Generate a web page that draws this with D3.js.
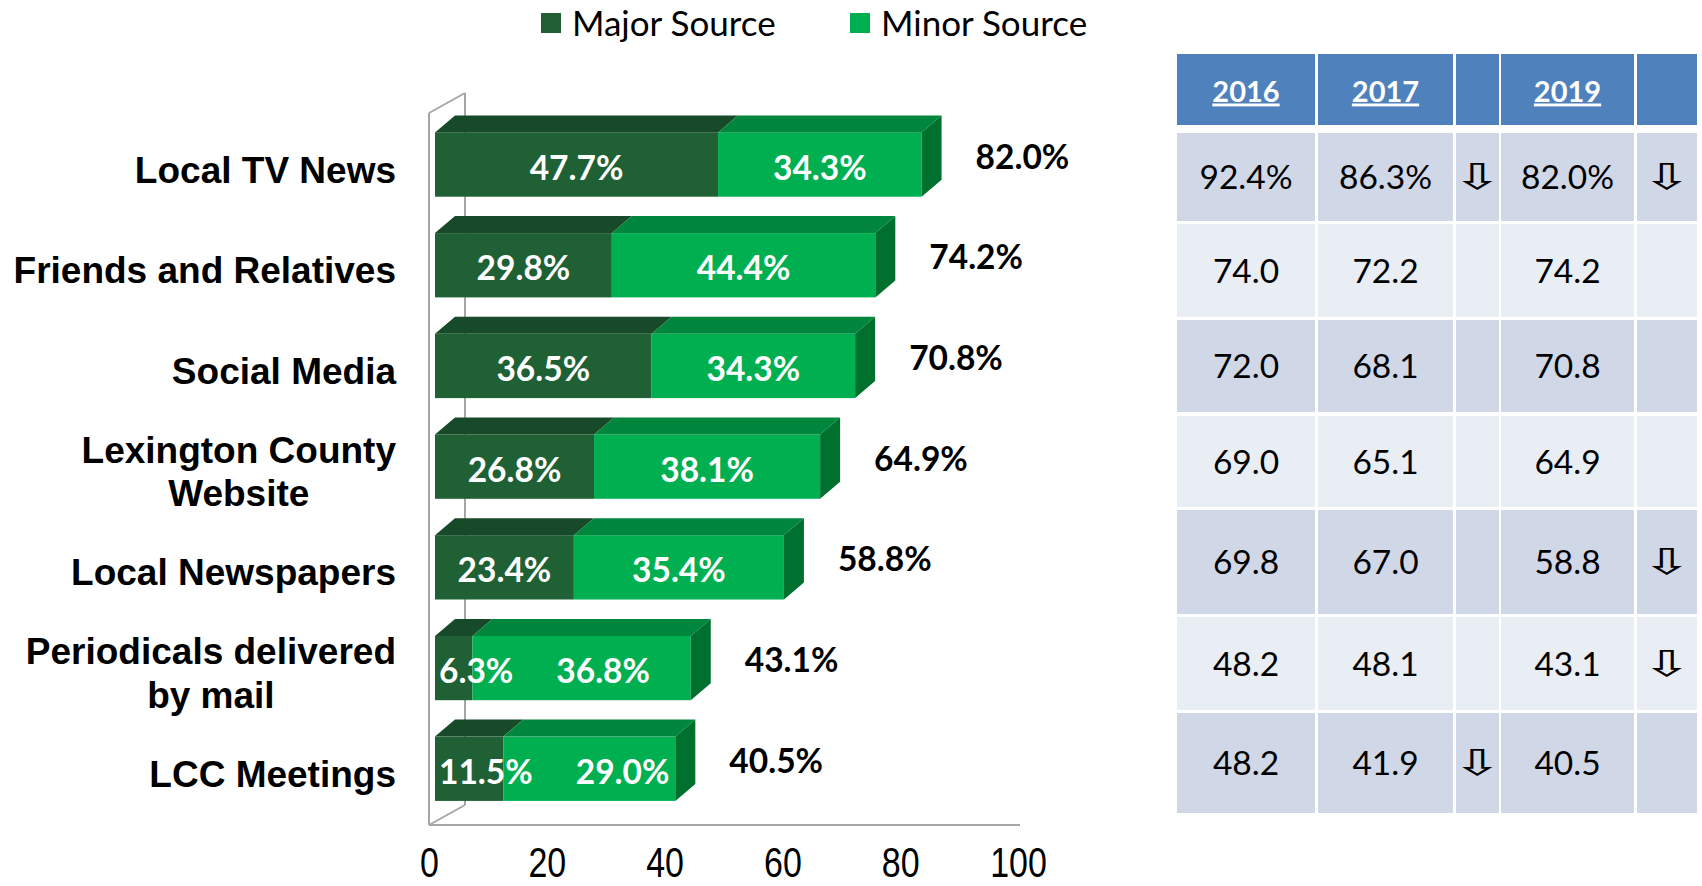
<!DOCTYPE html>
<html><head><meta charset="utf-8">
<script src="https://cdn.jsdelivr.net/npm/d3@7"></script>
<style>body{margin:0;background:#fff;} svg{display:block}</style>
</head><body><svg id="c" width="1702" height="886"></svg>
<script>
// ---------- data ----------
const categories = ["Local TV News", "Friends and Relatives", "Social Media", "Lexington County\nWebsite", "Local Newspapers", "Periodicals delivered\nby mail", "LCC Meetings"];
const seriesNames = ["Major Source", "Minor Source"];
const majorSource = [47.7, 29.8, 36.5, 26.8, 23.4, 6.3, 11.5];
const minorSource = [34.3, 44.4, 34.3, 38.1, 35.4, 36.8, 29.0];
const totals = [82.0, 74.2, 70.8, 64.9, 58.8, 43.1, 40.5];
const axisTicks = [0, 20, 40, 60, 80, 100];
const tableHeaders = ["2016", "2017", "", "2019", ""];
const values2016 = [92.4, 74.0, 72.0, 69.0, 69.8, 48.2, 48.2];
const values2017 = [86.3, 72.2, 68.1, 65.1, 67.0, 48.1, 41.9];
const values2019 = [82.0, 74.2, 70.8, 64.9, 58.8, 43.1, 40.5];
const trend2017 = ["down", "", "", "", "", "", "down"];
const trend2019 = ["down", "", "", "", "down", "down", ""];

// ---------- setup ----------
const svg = d3.select("#c");
const CAL = "Lato, 'Open Sans', sans-serif";
const ARIAL = "'Liberation Sans', Arial, sans-serif";
const col = {
  majorFront: "#1F6034", majorTop: "#174A28",
  minorFront: "#00B050", minorTop: "#00873D", side: "#00702F",
  axis: "#A6A6A6"
};

const xBar = d3.scaleLinear().domain([0, 100]).range([435, 1028.4]);
const xAx = d3.scaleLinear().domain([0, 100]).range([429, 1018]);
const y = d3.scaleBand().domain(categories).range([132.4, 800.9]).paddingInner(0.3615);
const bd = {dx: 20, dy: -17};   // bar depth
const wd = {dx: 36, dy: -20};   // wall depth
const floorY = 825, wallTop = 113;

// ---------- walls ----------
const walls = svg.append("g").attr("stroke", col.axis).attr("stroke-width", 2).attr("fill", "none");
walls.append("line").attr("x1", xAx(0) + wd.dx).attr("x2", xAx(0) + wd.dx)
  .attr("y1", wallTop + wd.dy).attr("y2", floorY + wd.dy);
walls.append("line").attr("x1", xAx(0)).attr("x2", xAx(0) + wd.dx)
  .attr("y1", wallTop).attr("y2", wallTop + wd.dy);
walls.append("line").attr("x1", xAx(0)).attr("x2", xAx(0) + wd.dx)
  .attr("y1", floorY).attr("y2", floorY + wd.dy);
walls.append("line").attr("x1", xAx(0)).attr("x2", xAx(0))
  .attr("y1", wallTop).attr("y2", floorY);
walls.append("line").attr("x1", xAx(0)).attr("x2", xAx(100) + 2)
  .attr("y1", floorY).attr("y2", floorY);

// ---------- bars ----------
const rows = categories.map((c, i) => ({cat: c, major: majorSource[i], minor: minorSource[i], total: totals[i]}));
const stack = d3.stack().keys(["major", "minor"])(rows);
const bars = svg.append("g");
stack.forEach((layer, li) => {
  layer.forEach((d, i) => {
    const cat = categories[i];
    const x0 = xBar(d[0]), x1 = xBar(d[1]), yt = y(cat), h = y.bandwidth();
    const g = bars.append("g");
    g.append("rect").attr("x", x0).attr("y", yt).attr("width", x1 - x0).attr("height", h)
      .attr("fill", li === 0 ? col.majorFront : col.minorFront);
    g.append("path").attr("d", `M${x0},${yt}L${x0 + bd.dx},${yt + bd.dy}L${x1 + bd.dx},${yt + bd.dy}L${x1},${yt}Z`)
      .attr("fill", li === 0 ? col.majorTop : col.minorTop);
    if (li === 1) {
      g.append("path").attr("d", `M${x1},${yt}L${x1 + bd.dx},${yt + bd.dy}L${x1 + bd.dx},${yt + h + bd.dy}L${x1},${yt + h}Z`)
        .attr("fill", col.side);
    }
  });
});

// ---------- inner labels ----------
const lab = svg.append("g").attr("font-family", CAL).attr("font-weight", 700).attr("font-size", 33.5).attr("fill", "#fff");
rows.forEach((r, i) => {
  const yc = y(r.cat) + y.bandwidth() / 2 + 3;
  const base = yc + 12;
  const x0 = xBar(0), xm = xBar(r.major), xe = xBar(r.total);
  const tMaj = lab.append("text").attr("y", base).text(r.major.toFixed(1) + "%");
  const wMaj = tMaj.node().getComputedTextLength();
  let majEnd;
  if (wMaj > (xm - x0) - 8) {
    tMaj.attr("x", x0 + 4).attr("text-anchor", "start");
    majEnd = x0 + 4 + wMaj;
  } else {
    tMaj.attr("x", (x0 + xm) / 2).attr("text-anchor", "middle");
    majEnd = null;
  }
  const tMin = lab.append("text").attr("y", base).attr("text-anchor", "middle").text(r.minor.toFixed(1) + "%");
  const wMin = tMin.node().getComputedTextLength();
  let cx = (xm + xe) / 2;
  if (majEnd !== null) cx = Math.max(cx, majEnd + 43 + wMin / 2);
  tMin.attr("x", cx);
});

// ---------- total labels ----------
const tot = svg.append("g").attr("font-family", CAL).attr("font-weight", 700).attr("font-size", 33.5).attr("fill", "#000");
rows.forEach(r => {
  const yc = y(r.cat) + y.bandwidth() / 2 - 8;
  tot.append("text").attr("x", xBar(r.total) + 54).attr("y", yc + 12).text(r.total.toFixed(1) + "%");
});

// ---------- category labels ----------
const cl = svg.append("g").attr("font-family", ARIAL).attr("font-weight", 700).attr("font-size", 37).attr("fill", "#000");
const labelRight = 396;
categories.forEach(c => {
  const lines = c.split("\n");
  const yc = y(c) + y.bandwidth() / 2 + 5;
  const ts = lines.map((ln, k) => cl.append("text").attr("y", yc + (k - (lines.length - 1) / 2) * 43.5 + 13).text(ln));
  const maxW = d3.max(ts, t => t.node().getComputedTextLength());
  ts.forEach(t => t.attr("x", labelRight - maxW / 2).attr("text-anchor", "middle"));
});

// ---------- x axis ----------
const ax = svg.append("g").attr("transform", `translate(0,${floorY})`)
  .call(d3.axisBottom(xAx).tickValues(axisTicks).tickSize(0).tickPadding(0).tickFormat(d3.format("d")));
ax.select(".domain").remove();
ax.selectAll("text").attr("y", 52).attr("dy", null).attr("font-family", ARIAL).attr("font-size", 43)
  .attr("fill", "#000").attr("transform", "scale(0.79,1)");

// ---------- legend ----------
const lg = svg.append("g").attr("font-family", CAL).attr("font-size", 35).attr("fill", "#000");
const legX = [541, 850];
seriesNames.forEach((s, i) => {
  lg.append("rect").attr("x", legX[i]).attr("y", 13).attr("width", 20).attr("height", 20)
    .attr("fill", i === 0 ? col.majorFront : col.minorFront);
  lg.append("text").attr("x", legX[i] + 31).attr("y", 36).text(s);
});

// ---------- table ----------
const colEdges = [[1177, 1315], [1318, 1453], [1456, 1499], [1501, 1634], [1637, 1697]];
const headEdge = [54, 125];
const rowEdges = [[133, 221], [224, 317], [320, 412], [416, 507], [510, 614], [617, 710], [713, 813]];
const tb = svg.append("g");
colEdges.forEach((ce, j) => {
  tb.append("rect").attr("x", ce[0]).attr("y", headEdge[0]).attr("width", ce[1] - ce[0]).attr("height", headEdge[1] - headEdge[0]).attr("fill", "#4F81BD");
  if (tableHeaders[j]) {
    tb.append("text").attr("x", (ce[0] + ce[1]) / 2).attr("y", (headEdge[0] + headEdge[1]) / 2 + 12)
      .attr("text-anchor", "middle").attr("font-family", CAL).attr("font-weight", 700).attr("font-size", 29)
      .attr("fill", "#fff").attr("text-decoration", "underline").text(tableHeaders[j]);
  }
});
const fmt = (v, i) => v.toFixed(1) + (i === 0 ? "%" : "");
rowEdges.forEach((re, i) => {
  const fill = i % 2 === 0 ? "#D0D8E8" : "#E9EDF4";
  const cells = [fmt(values2016[i], i), fmt(values2017[i], i), trend2017[i], fmt(values2019[i], i), trend2019[i]];
  colEdges.forEach((ce, j) => {
    tb.append("rect").attr("x", ce[0]).attr("y", re[0]).attr("width", ce[1] - ce[0]).attr("height", re[1] - re[0]).attr("fill", fill);
    const v = cells[j];
    if (!v) return;
    const cx = (ce[0] + ce[1]) / 2, cy = (re[0] + re[1]) / 2;
    if (v === "down") {
      tb.append("text").attr("transform", `translate(${cx},${cy + 12}) scale(1.7,1)`).attr("text-anchor", "middle")
        .attr("font-family", "'DejaVu Sans', sans-serif").attr("font-size", 36).attr("fill", "#000").text("\u21E9");
    } else {
      tb.append("text").attr("x", cx).attr("y", cy + 12).attr("text-anchor", "middle")
        .attr("font-family", CAL).attr("font-size", 33.5).attr("fill", "#000").text(v);
    }
  });
});
</script>
</body></html>
